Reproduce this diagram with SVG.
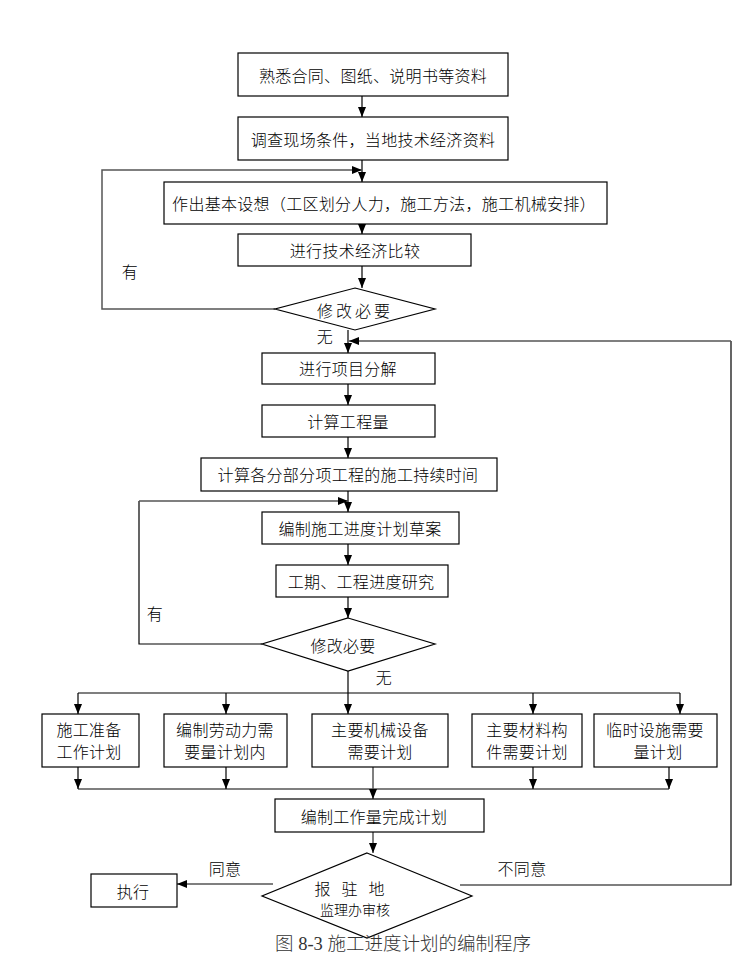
<svg xmlns="http://www.w3.org/2000/svg" width="753" height="976" viewBox="0 0 753 976">
<style>
.b{fill:#fff;stroke:#000;stroke-width:1.2}
.t{font-family:"Noto Sans CJK SC","Liberation Sans",sans-serif;font-size:16px;font-weight:300;letter-spacing:0.3px;fill:#000;text-anchor:middle;dominant-baseline:central}
.c{fill:none;stroke:#000;stroke-width:1.2}
.g{fill:none;stroke:#555;stroke-width:1.5}
</style>
<defs>
<marker id="a" markerUnits="userSpaceOnUse" markerWidth="10" markerHeight="8" refX="10" refY="4" orient="auto">
<path d="M0,0 L10,4 L0,8 z" fill="#000"/>
</marker>
</defs>
<rect width="753" height="976" fill="#fff"/>
<g id="connectors">
<path class="c" d="M362,96 V117" marker-end="url(#a)"/>
<path class="c" d="M362,160 V182" marker-end="url(#a)"/>
<path class="g" d="M275,309 H102 V170 H362" marker-end="url(#a)"/>
<path class="c" d="M362,224 V234" marker-end="url(#a)"/>
<path class="c" d="M362,266 V288" marker-end="url(#a)"/>
<path class="c" d="M348,330 V353" marker-end="url(#a)"/>
<path class="c" d="M460,885 H731 V341"/>
<path class="g" d="M731,341 H349" marker-end="url(#a)"/>
<path class="c" d="M348,384 V405" marker-end="url(#a)"/>
<path class="c" d="M348,437 V458" marker-end="url(#a)"/>
<path class="c" d="M348,491 V512" marker-end="url(#a)"/>
<path class="c" d="M262,644 H139 V501"/>
<path class="g" d="M139,501 H348" marker-end="url(#a)"/>
<path class="c" d="M348,544 V565" marker-end="url(#a)"/>
<path class="c" d="M348,597 V618" marker-end="url(#a)"/>
<path class="c" d="M348,671 V714" marker-end="url(#a)"/>
<path class="c" d="M78,693 H680"/>
<path class="c" d="M78,693 V714" marker-end="url(#a)"/>
<path class="c" d="M226,693 V714" marker-end="url(#a)"/>
<path class="c" d="M533,693 V714" marker-end="url(#a)"/>
<path class="c" d="M680,693 V714" marker-end="url(#a)"/>
<path class="c" d="M78,767 V789" marker-end="url(#a)"/>
<path class="c" d="M226,767 V789" marker-end="url(#a)"/>
<path class="c" d="M533,767 V789" marker-end="url(#a)"/>
<path class="c" d="M669,767 V789" marker-end="url(#a)"/>
<path class="c" d="M78,789 H669"/>
<path class="g" d="M373,767 V799" marker-end="url(#a)"/>
<path class="g" d="M373,832 V853" marker-end="url(#a)"/>
<path class="c" d="M273,884 H177" marker-end="url(#a)"/>
<text class="t" x="130" y="271">有</text>
<text class="t" x="325" y="336">无</text>
<text class="t" x="155" y="613">有</text>
<text class="t" x="384" y="677">无</text>
<text class="t" x="225" y="868">同意</text>
<text class="t" x="522" y="868">不同意</text>
</g>
<g id="n1"><rect class="b" x="238" y="53" width="270" height="43"/><text class="t" x="373" y="75">熟悉合同、图纸、说明书等资料</text></g>
<g id="n2"><rect class="b" x="238" y="117" width="270" height="43"/><text class="t" x="373" y="139">调查现场条件，当地技术经济资料</text></g>
<g id="n3"><rect class="b" x="164" y="182" width="443" height="42"/><text class="t" x="384" y="203">作出基本设想（工区划分人力，施工方法，施工机械安排）</text></g>
<g id="n4"><rect class="b" x="238" y="234" width="233" height="32"/><text class="t" x="355" y="250">进行技术经济比较</text></g>
<g id="d1"><path class="b" d="M355,288 L435,309 L355,330 L275,309 Z"/><text class="t" x="355" y="310" style="letter-spacing:3px">修改必要</text></g>
<g id="n5"><rect class="b" x="262" y="353" width="173" height="31"/><text class="t" x="348" y="368">进行项目分解</text></g>
<g id="n6"><rect class="b" x="262" y="405" width="173" height="32"/><text class="t" x="348" y="421">计算工程量</text></g>
<g id="n7"><rect class="b" x="201" y="458" width="296" height="33"/><text class="t" x="348" y="474">计算各分部分项工程的施工持续时间</text></g>
<g id="n8"><rect class="b" x="262" y="512" width="197" height="32"/><text class="t" x="360" y="528">编制施工进度计划草案</text></g>
<g id="n9"><rect class="b" x="276" y="565" width="172" height="32"/><text class="t" x="361" y="581">工期、工程进度研究</text></g>
<g id="d2"><path class="b" d="M348,618 L435,644 L348,671 L262,644 Z"/><text class="t" x="343" y="645">修改必要</text></g>
<g id="pA"><rect class="b" x="42" y="714" width="97" height="53"/><text class="t" x="89" y="729">施工准备</text><text class="t" x="89" y="751">工作计划</text></g>
<g id="pB"><rect class="b" x="164" y="714" width="123" height="53"/><text class="t" x="225" y="729">编制劳动力需</text><text class="t" x="225" y="751">要量计划内</text></g>
<g id="pC"><rect class="b" x="312" y="714" width="136" height="53"/><text class="t" x="380" y="729">主要机械设备</text><text class="t" x="380" y="751">需要计划</text></g>
<g id="pD"><rect class="b" x="472" y="714" width="110" height="53"/><text class="t" x="527" y="729">主要材料构</text><text class="t" x="527" y="751">件需要计划</text></g>
<g id="pE"><rect class="b" x="594" y="714" width="123" height="53"/><text class="t" x="655" y="729">临时设施需要</text><text class="t" x="658" y="751">量计划</text></g>
<g id="nF"><rect class="b" x="275" y="799" width="209" height="33"/><text class="t" x="374" y="816">编制工作量完成计划</text></g>
<g id="d3"><path class="b" d="M367,853 L472,896 L367,938 L262,896 Z"/><text class="t" x="355" y="888" style="letter-spacing:11px">报驻地</text><text class="t" x="355" y="909" style="font-size:14px;letter-spacing:0">监理办审核</text></g>
<g id="exec"><rect class="b" x="91" y="874" width="86" height="33"/><text class="t" x="133" y="891">执行</text></g>
<text x="275" y="950" style="font-family:'Liberation Serif','Noto Sans CJK SC',serif;font-size:18.5px;font-weight:300;fill:#333">图 8-3 施工进度计划的编制程序</text>
</svg>
